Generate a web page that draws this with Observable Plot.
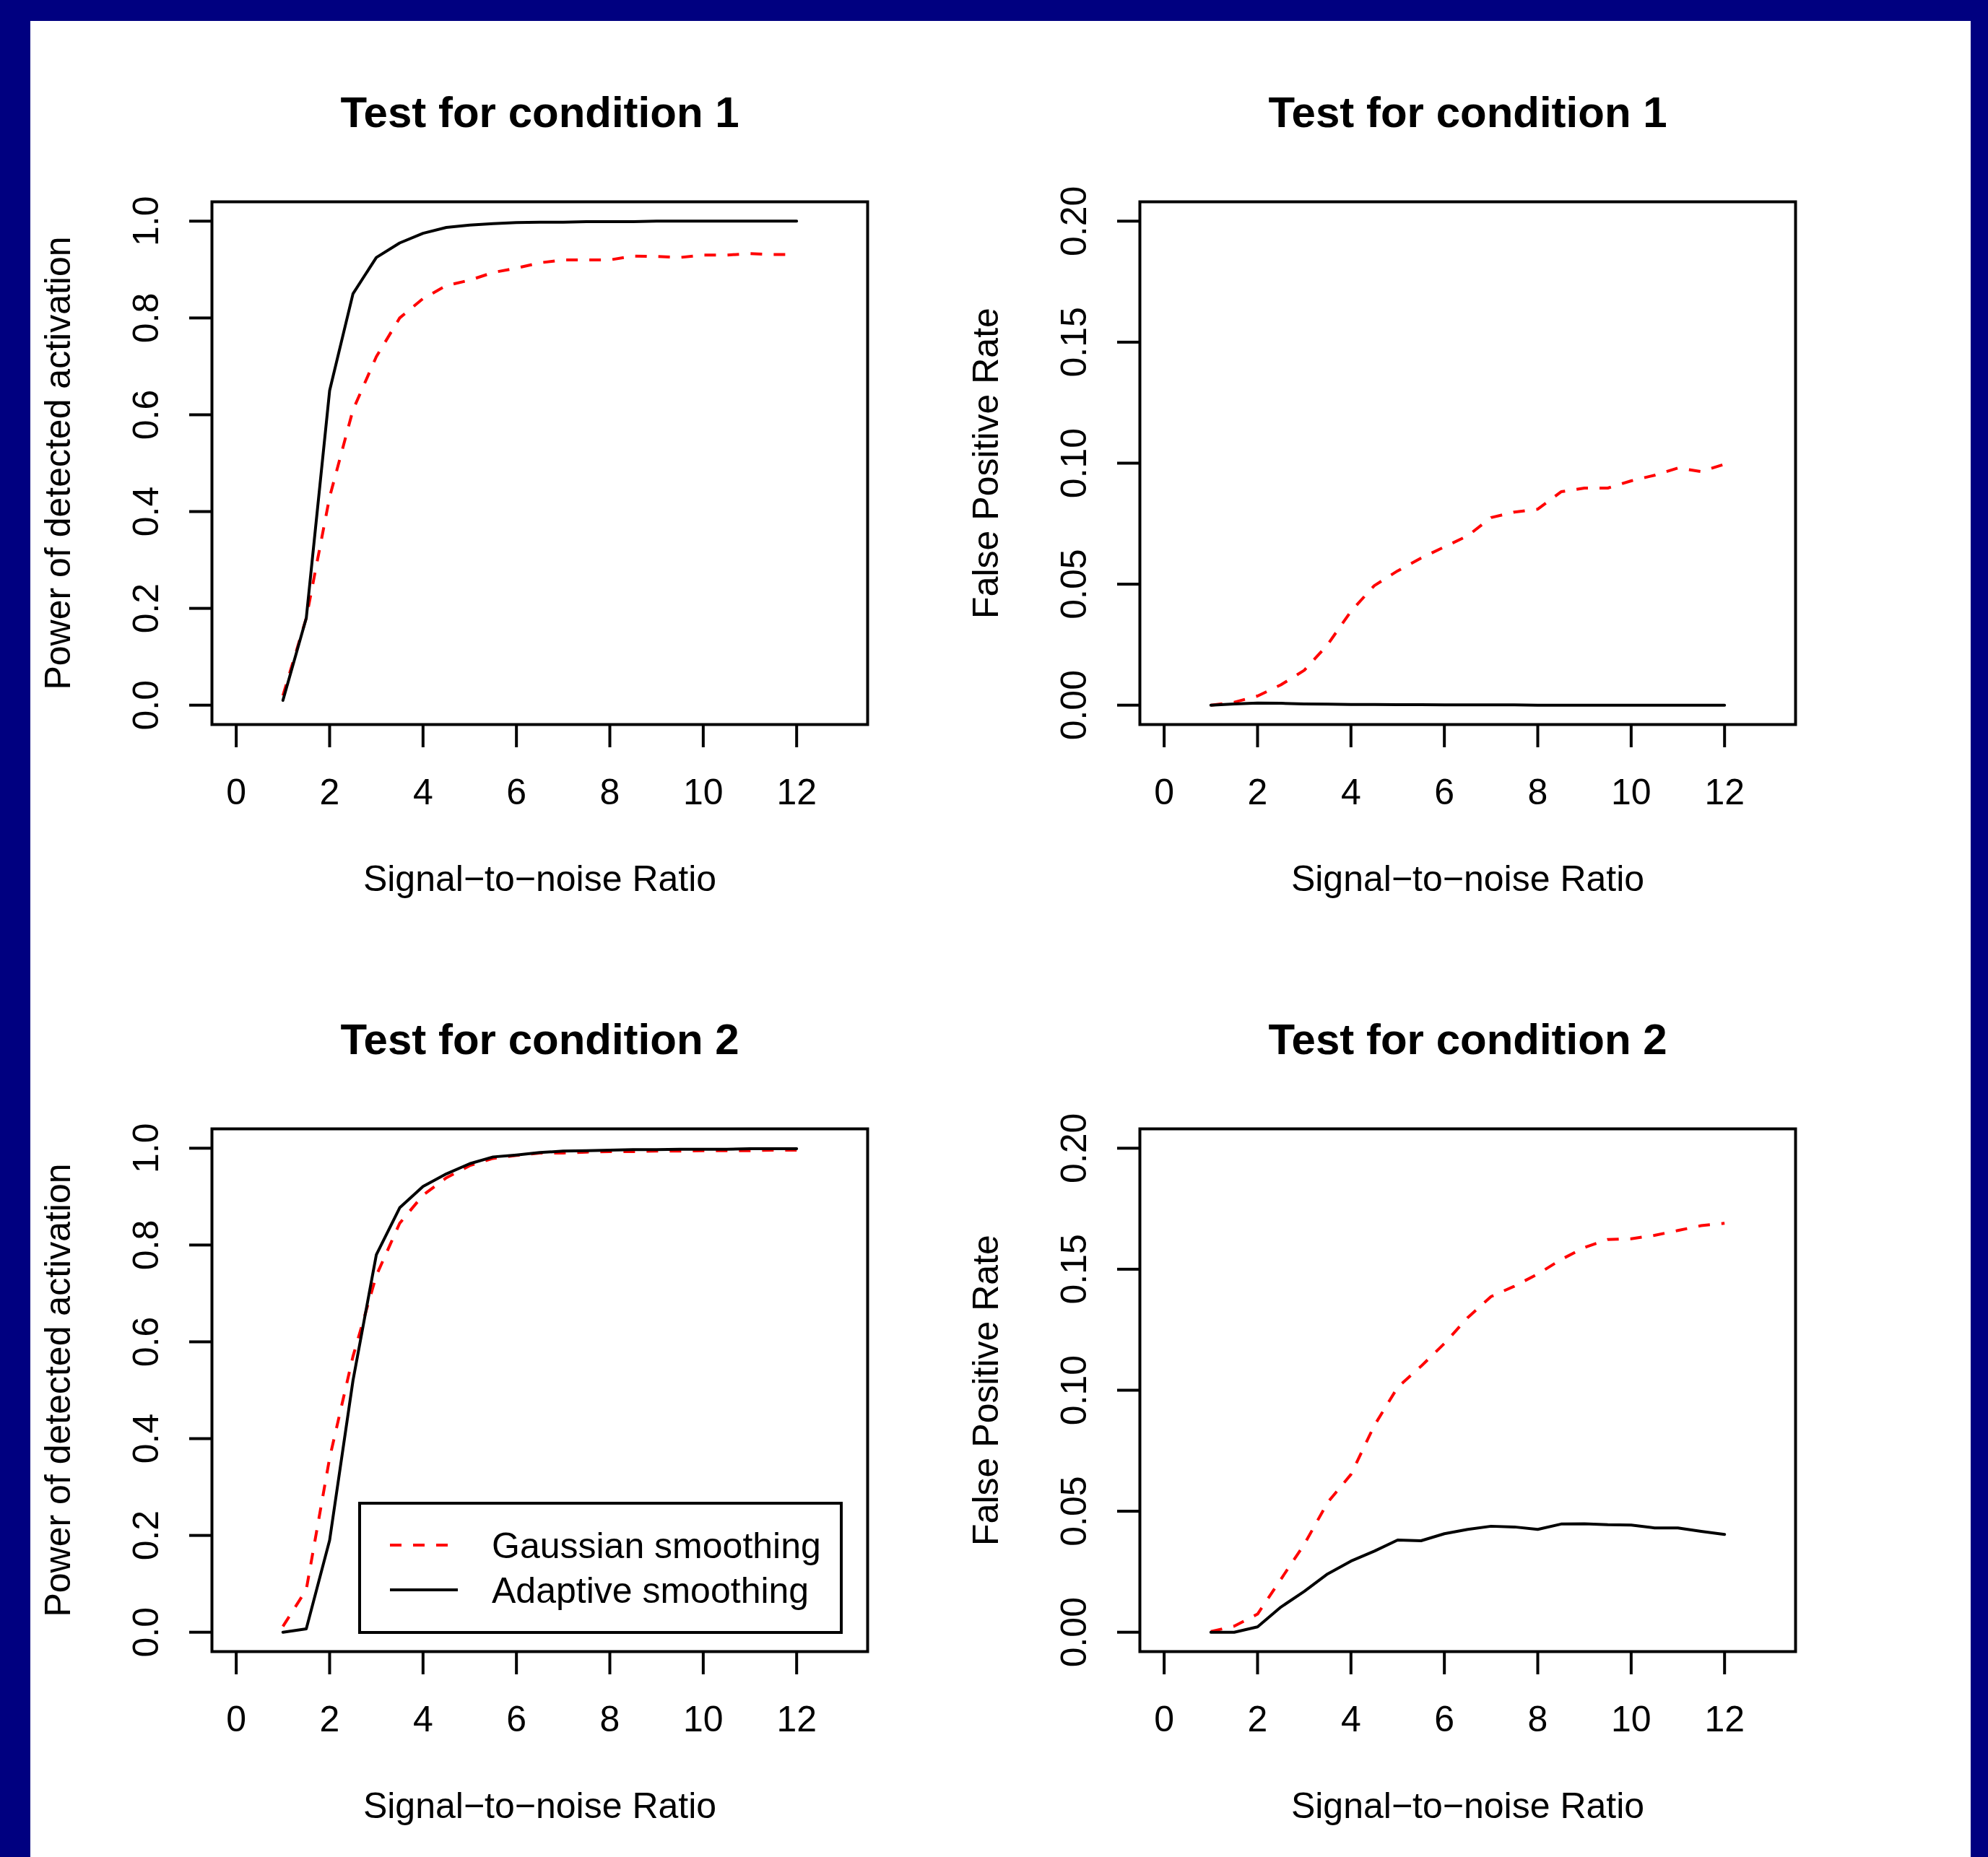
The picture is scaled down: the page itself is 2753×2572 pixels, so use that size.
<!DOCTYPE html>
<html>
<head>
<meta charset="utf-8">
<script src="https://cdn.jsdelivr.net/npm/d3@7"></script>
<script src="https://cdn.jsdelivr.net/npm/@observablehq/plot@0.6"></script>
<style>
html, body { margin: 0; padding: 0; width: 2753px; height: 2572px; overflow: hidden; background: #000080; }
#page { position: absolute; left: 42px; top: 29px; width: 2687px; height: 2543px; background: #ffffff; }
.panel { position: absolute; }
.panel svg { display: block; }
#legend { position: absolute; }
</style>
</head>
<body>
<div id="page"></div>
<script>
// ---- data ----
const snr = [1, 1.5, 2, 2.5, 3, 3.5, 4, 4.5, 5, 5.5, 6, 6.5, 7, 7.5, 8, 8.5, 9, 9.5, 10, 10.5, 11, 11.5, 12];

const gauss1Power = [0.02, 0.18, 0.43, 0.61, 0.72, 0.80, 0.84, 0.867, 0.878, 0.894, 0.903, 0.914, 0.92, 0.92, 0.92, 0.928, 0.927, 0.925, 0.93, 0.93, 0.933, 0.931, 0.931];
const adapt1Power = [0.01, 0.18, 0.65, 0.85, 0.925, 0.955, 0.975, 0.987, 0.992, 0.995, 0.997, 0.998, 0.998, 0.999, 0.999, 0.999, 1, 1, 1, 1, 1, 1, 1];

const gauss1FPR = [0, 0.0012, 0.0038, 0.0084, 0.0144, 0.025, 0.0388, 0.0494, 0.0555, 0.0608, 0.0654, 0.070, 0.0775, 0.0798, 0.081, 0.0882, 0.0897, 0.0897, 0.0927, 0.095, 0.098, 0.0965, 0.0996];
const adapt1FPR = [0, 0.0005, 0.0009, 0.0008, 0.0005, 0.0004, 0.0003, 0.0003, 0.0002, 0.0002, 0.0001, 0.0001, 0.0001, 0.0001, 0, 0, 0, 0, 0, 0, 0, 0, 0];

const gauss2Power = [0.012, 0.088, 0.36, 0.57, 0.737, 0.845, 0.903, 0.939, 0.964, 0.979, 0.985, 0.99, 0.99, 0.992, 0.993, 0.993, 0.994, 0.994, 0.995, 0.995, 0.995, 0.996, 0.996];
const adapt2Power = [0.0, 0.007, 0.19, 0.52, 0.78, 0.877, 0.921, 0.947, 0.968, 0.982, 0.986, 0.991, 0.994, 0.995, 0.996, 0.997, 0.997, 0.998, 0.998, 0.998, 0.999, 0.999, 0.999];

const gauss2FPR = [0.0003, 0.0025, 0.0075, 0.0219, 0.0363, 0.0536, 0.0652, 0.0854, 0.1012, 0.1099, 0.1193, 0.130, 0.1387, 0.143, 0.148, 0.154, 0.159, 0.1623, 0.1626, 0.164, 0.166, 0.168, 0.169];
const adapt2FPR = [0, 0, 0.0022, 0.0104, 0.0169, 0.0241, 0.0294, 0.0335, 0.0381, 0.0378, 0.0407, 0.0425, 0.0438, 0.0435, 0.0425, 0.0447, 0.0448, 0.0444, 0.0443, 0.0431, 0.0431, 0.0417, 0.0404];

const xTicks = [0, 2, 4, 6, 8, 10, 12];
const xTickLabels = ["0", "2", "4", "6", "8", "10", "12"];
const powerTicks = [0, 0.2, 0.4, 0.6, 0.8, 1.0];
const powerTickLabels = ["0.0", "0.2", "0.4", "0.6", "0.8", "1.0"];
const fprTicks = [0, 0.05, 0.10, 0.15, 0.20];
const fprTickLabels = ["0.00", "0.05", "0.10", "0.15", "0.20"];

const titles = ["Test for condition 1", "Test for condition 1", "Test for condition 2", "Test for condition 2"];
const yLabels = ["Power of detected activation", "False Positive Rate", "Power of detected activation", "False Positive Rate"];
const xLabel = "Signal\u2212to\u2212noise Ratio";
const seriesNames = ["Gaussian smoothing", "Adaptive smoothing"];

// ---- drawing ----
const FONT = "'Liberation Sans', Arial, Helvetica, sans-serif";
const LW = 4;

function pad(lo, hi) { const r = hi - lo; return [lo - 0.04 * r, hi + 0.04 * r]; }

function panel({title, ylabel, yTicks, yTickLabels, yRange, gauss, adapt}) {
  const gData = gauss.map((v, i) => ({x: snr[i], y: v}));
  const aData = adapt.map((v, i) => ({x: snr[i], y: v}));
  return Plot.plot({
    width: 1285,
    height: 1254,
    marginLeft: 251,
    marginRight: 126,
    marginTop: 250,
    marginBottom: 280,
    style: {fontFamily: FONT, fontSize: "50px", background: "transparent", color: "black"},
    x: {domain: pad(0, 13), label: null},
    y: {domain: pad(yRange[0], yRange[1]), label: null},
    marks: [
      Plot.line(gData, {x: "x", y: "y", stroke: "#ff0000", strokeWidth: LW, strokeDasharray: "16,16", strokeLinecap: "butt"}),
      Plot.line(aData, {x: "x", y: "y", stroke: "black", strokeWidth: LW}),
      Plot.frame({stroke: "black", strokeWidth: LW}),
      Plot.axisX({ticks: xTicks, tickFormat: d => xTickLabels[xTicks.indexOf(d)], tickSize: 32, tickPadding: 62,
        lineAnchor: "middle", strokeWidth: LW, fontSize: 50, label: null}),
      Plot.axisY({ticks: yTicks, tickFormat: d => yTickLabels[yTicks.findIndex(t => Math.abs(t - d) < 1e-9)],
        tickSize: 31, tickPadding: 60, tickRotate: -90, textAnchor: "middle", lineAnchor: "middle",
        strokeWidth: LW, fontSize: 50, label: null}),
      Plot.text([xLabel], {text: d => d, frameAnchor: "bottom", dy: 214, fontSize: 50, textAnchor: "middle", lineAnchor: "middle"}),
      Plot.text([ylabel], {text: d => d, frameAnchor: "left", dx: -213, rotate: -90, fontSize: 50, textAnchor: "middle", lineAnchor: "middle"}),
      Plot.text([title], {text: d => d, frameAnchor: "top", dy: -123, fontSize: 60, fontWeight: "bold", textAnchor: "middle", lineAnchor: "middle"})
    ]
  });
}

const page = document.getElementById("page");
const specs = [
  {title: titles[0], ylabel: yLabels[0], yTicks: powerTicks, yTickLabels: powerTickLabels, yRange: [0, 1], gauss: gauss1Power, adapt: adapt1Power},
  {title: titles[1], ylabel: yLabels[1], yTicks: fprTicks, yTickLabels: fprTickLabels, yRange: [0, 0.2], gauss: gauss1FPR, adapt: adapt1FPR},
  {title: titles[2], ylabel: yLabels[2], yTicks: powerTicks, yTickLabels: powerTickLabels, yRange: [0, 1], gauss: gauss2Power, adapt: adapt2Power},
  {title: titles[3], ylabel: yLabels[3], yTicks: fprTicks, yTickLabels: fprTickLabels, yRange: [0, 0.2], gauss: gauss2FPR, adapt: adapt2FPR}
];
specs.forEach((s, i) => {
  const div = document.createElement("div");
  div.className = "panel";
  div.style.left = (i % 2) * 1285 + "px";
  div.style.top = Math.floor(i / 2) * 1284 + "px";
  div.appendChild(panel(s));
  page.appendChild(div);
});

// ---- legend (bottom-left panel) ----
const lg = d3.create("svg").attr("id", "legend").attr("width", 671).attr("height", 183)
  .style("left", "454px").style("top", "2051px").style("position", "absolute");
lg.append("rect").attr("x", 2).attr("y", 2).attr("width", 667).attr("height", 179)
  .attr("fill", "white").attr("stroke", "black").attr("stroke-width", LW);
const rows = [
  {name: seriesNames[0], stroke: "#ff0000", dash: "16,16", y: 60},
  {name: seriesNames[1], stroke: "black", dash: null, y: 122}
];
rows.forEach(r => {
  const ln = lg.append("line").attr("x1", 44).attr("x2", 138).attr("y1", r.y).attr("y2", r.y)
    .attr("stroke", r.stroke).attr("stroke-width", LW);
  if (r.dash) ln.attr("stroke-dasharray", r.dash);
  lg.append("text").attr("x", 185).attr("y", r.y).attr("dy", "0.35em")
    .style("font-family", FONT).style("font-size", "50px").text(r.name);
});
page.appendChild(lg.node());
</script>
</body>
</html>
